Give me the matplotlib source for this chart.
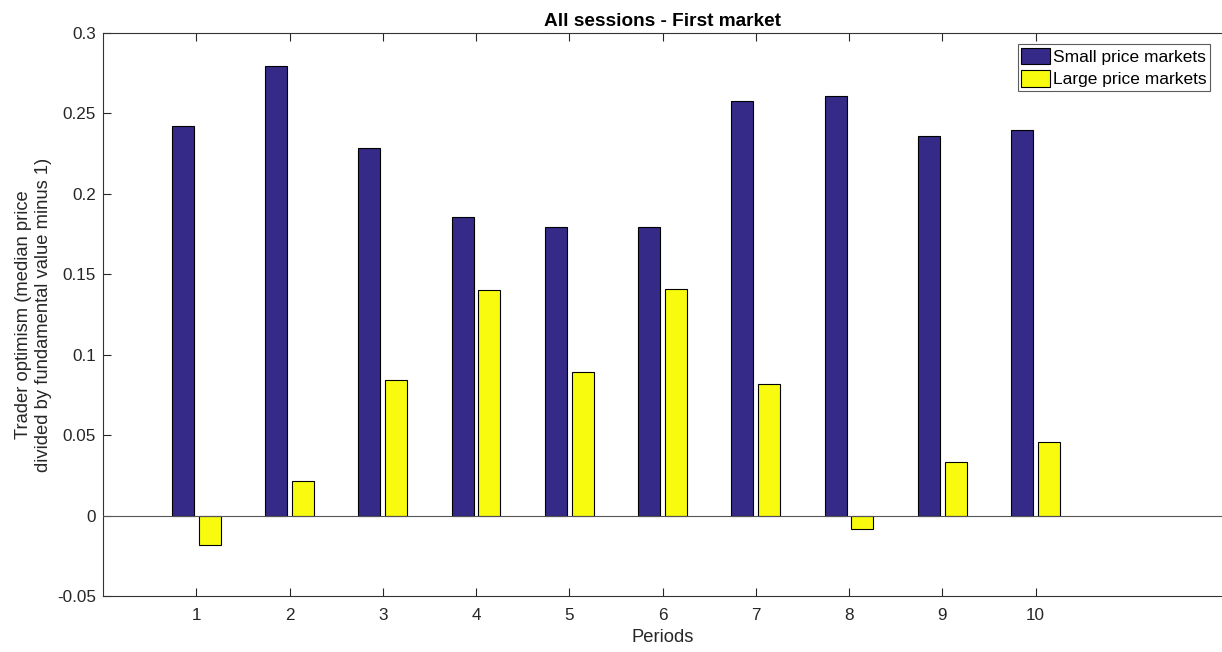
import numpy as np
import matplotlib

matplotlib.use("Agg")
import matplotlib.pyplot as plt

plt.rcParams["font.family"] = ["Liberation Sans", "DejaVu Sans"]

periods = [1, 2, 3, 4, 5, 6, 7, 8, 9, 10]
small_price = [0.2423, 0.2795, 0.2286, 0.1858, 0.1796, 0.1796, 0.2578, 0.2609, 0.2361, 0.2398]
large_price = [-0.0184, 0.0213, 0.0840, 0.1405, 0.0890, 0.1411, 0.0816, -0.0084, 0.0331, 0.0456]

NAVY = "#352a87"
YELLOW = "#f9fb0e"
AXCOL = "#262626"

fig = plt.figure(figsize=(12.22, 6.52), dpi=100)
ax = fig.add_axes([103 / 1222, 1 - 596 / 652, 1 - 103 / 1222, (596 - 33) / 652])

x = np.array(periods, dtype=float)
w = 0.236
ax.bar(x - 0.1425, small_price, width=w, color=NAVY, edgecolor="black",
       linewidth=0.8, label="Small price markets", zorder=3)
ax.bar(x + 0.1425, large_price, width=w, color=YELLOW, edgecolor="black",
       linewidth=0.8, label="Large price markets", zorder=3)

# baseline
ax.axhline(0, color="#555555", linewidth=0.8, zorder=4)

ax.set_xlim(0, 12)
ax.set_ylim(-0.05, 0.3)
ax.set_xticks(periods)
ax.set_yticks([-0.05, 0, 0.05, 0.1, 0.15, 0.2, 0.25, 0.3])
ax.set_yticklabels(["-0.05", "0", "0.05", "0.1", "0.15", "0.2", "0.25", "0.3"])
ax.tick_params(direction="in", length=6, width=0.8, colors=AXCOL,
               labelsize=12.3, top=True, right=False)
ax.tick_params(axis="x", pad=9)
ax.tick_params(axis="y", pad=5)
ax.spines["right"].set_visible(False)
for s in ["left", "top", "bottom"]:
    ax.spines[s].set_color("#333333")
    ax.spines[s].set_linewidth(0.8)

ax.set_title("All sessions - First market", fontsize=13.7, fontweight="bold", pad=5)
ax.set_xlabel("Periods", fontsize=13.2, color=AXCOL, labelpad=4)
ax.set_ylabel("Trader optimism (median price\ndivided by fundamental value minus 1)",
              fontsize=13.2, color=AXCOL, labelpad=3.5, linespacing=1.25)

leg = ax.legend(loc="upper right", bbox_to_anchor=(0.989, 0.980), fontsize=12.5,
                frameon=True, fancybox=False, edgecolor="#333333",
                handlelength=1.65, handleheight=1.1, handletextpad=0.15,
                borderpad=0.2, labelspacing=0.3, borderaxespad=0)
leg.get_frame().set_linewidth(0.8)

fig.savefig("out.png", dpi=100)
